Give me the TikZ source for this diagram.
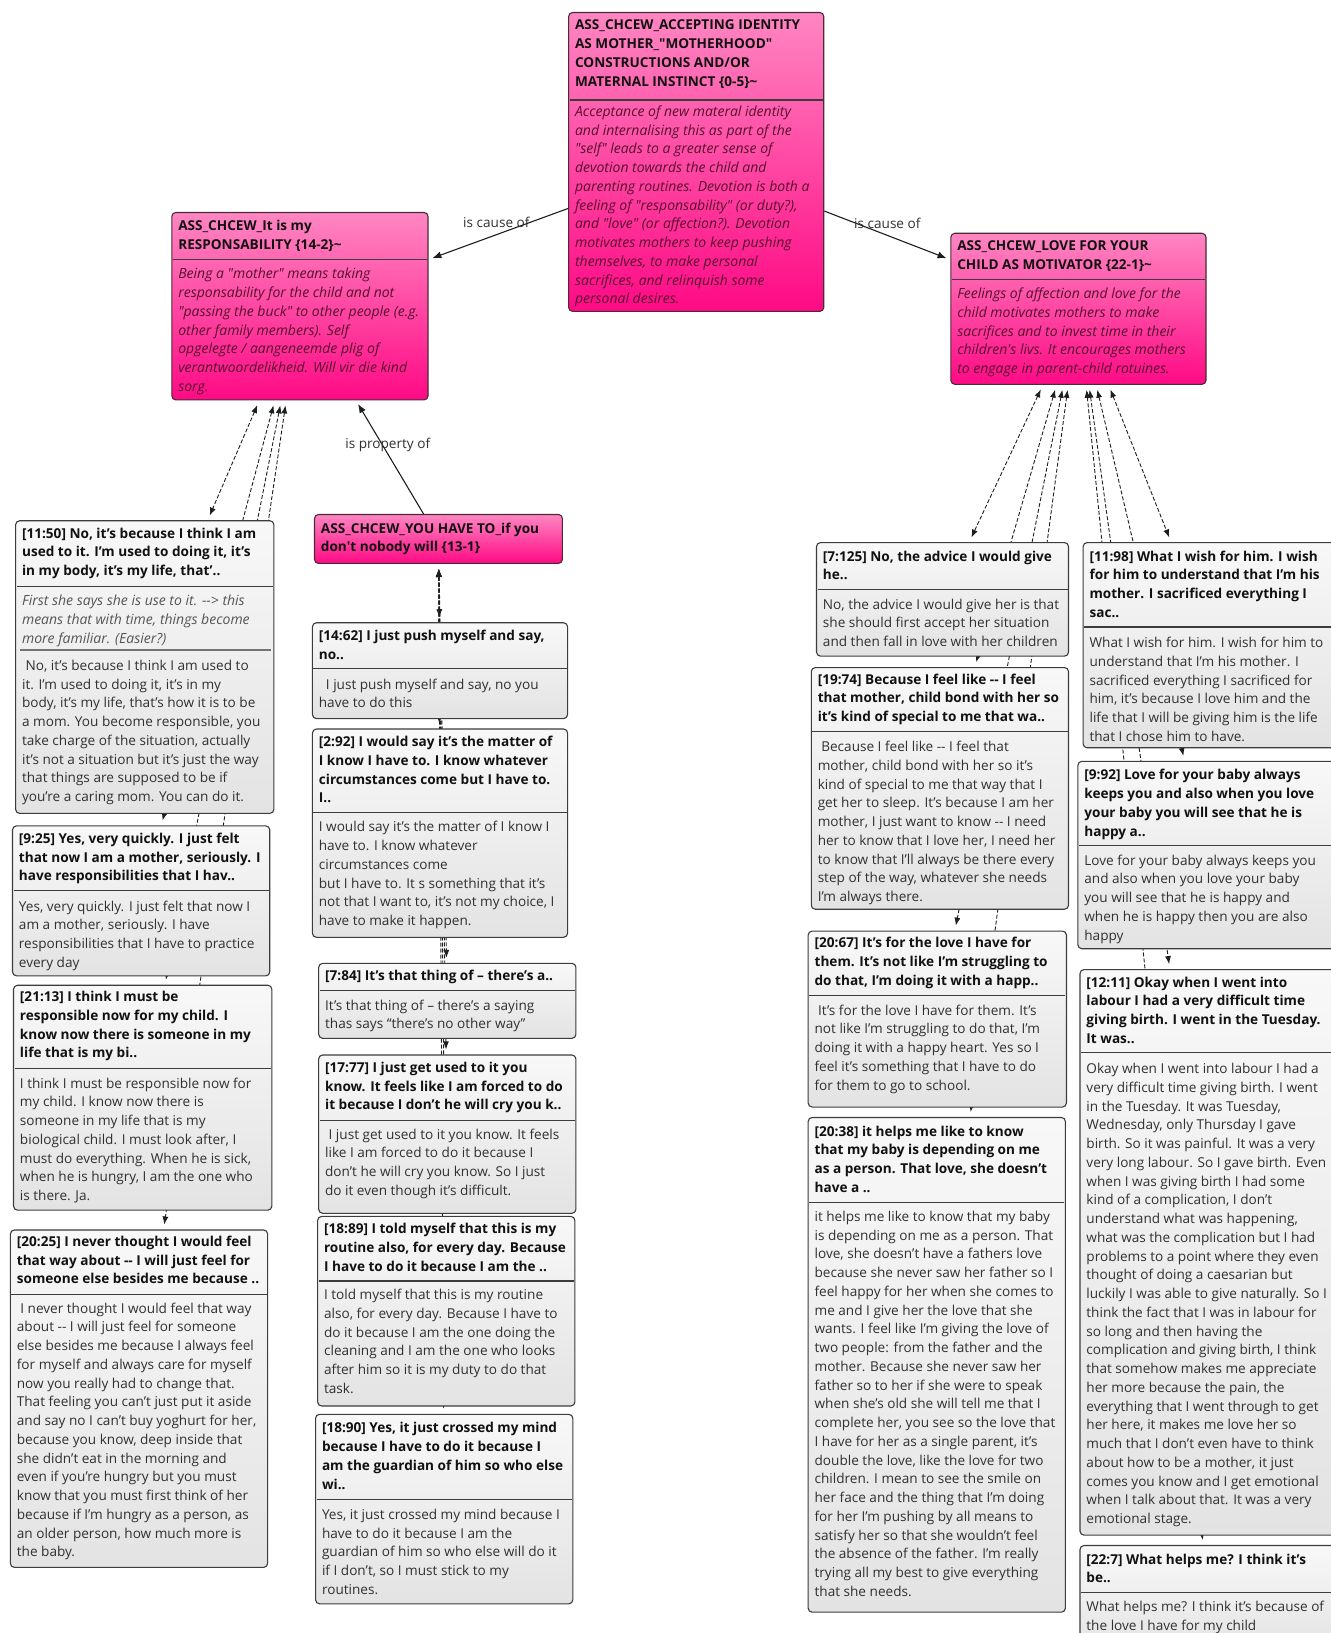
\documentclass[tikz,border=0pt]{standalone}
\usepackage{fontspec}
\setmainfont{Open Sans}[Ligatures=TeXOff]
\usetikzlibrary{arrows.meta,fit,backgrounds}

\definecolor{qborder}{HTML}{3C3C3C}
\definecolor{qtop}{HTML}{F8F8F8}
\definecolor{qbot}{HTML}{E3E3E3}
\definecolor{cborder}{HTML}{4A2A38}
\definecolor{ctop}{HTML}{FF86C2}
\definecolor{cbot}{HTML}{FF0A85}
\definecolor{headink}{HTML}{111111}
\definecolor{bodyink}{HTML}{303030}
\definecolor{noteink}{HTML}{555555}
\definecolor{codeink}{HTML}{55102F}
\definecolor{linkink}{HTML}{1E1E1E}

\newcommand\fsz{\fontsize{13.6pt}{18.75pt}\selectfont}
\newcommand\fszi{\fontsize{14pt}{18.75pt}\selectfont}
% a box spanning two corners
\newcommand\cardbox[6]{\node[#2, fit={(#3,#4)(#5,#6)}] (#1) {};}
% a block of lines whose first line is centred on the given y
\newcommand\cardtext[5]{\node[#2, anchor=north west] (#1) at (#3,{#4-8.0}) {\strut#5};}
% a horizontal divider inside a box
\newcommand\cardrule[4]{\draw[#1] (#2,#4) -- (#3,#4);}

\begin{document}
\begin{tikzpicture}[x=1.0415pt,y=-1.0415pt,
  quotecard/.style={draw=qborder, line width=1.1pt, rounded corners=4pt,
    top color=qtop, bottom color=qbot, inner sep=0pt},
  codecard/.style={draw=cborder, line width=1.1pt, rounded corners=4pt,
    top color=ctop, bottom color=cbot, inner sep=0pt},
  headtxt/.style={font=\fsz\bfseries, text=headink, align=left, inner sep=0pt},
  bodytxt/.style={font=\fsz, text=bodyink, align=left, inner sep=0pt},
  notetxt/.style={font=\fszi\itshape, text=noteink, align=left, inner sep=0pt},
  codetxt/.style={font=\fszi\itshape, text=codeink, align=left, inner sep=0pt},
  divider/.style={draw=qborder, line width=1.1pt},
  notedivider/.style={draw=black!55, line width=2pt},
  qlink/.style={draw=linkink, line width=0.9pt, dash pattern=on 4pt off 2pt,
    {Latex[length=8pt,width=6pt]}-{Latex[length=8pt,width=6pt]},
    shorten <=5pt, shorten >=5pt},
  rel/.style={draw=linkink, line width=1.1pt, -{Latex[length=9pt,width=7pt]},
    shorten >=4pt},
  rellabel/.style={font=\fsz, text=bodyink, midway, yshift=12pt, inner sep=0pt}
]
\useasboundingbox (0,0) rectangle (1278,1568);
\clip (0,0) rectangle (1278,1568);

% ---------------- codes ----------------
\cardbox{top}{codecard}{546}{12}{791}{299}
\cardtext{toph}{headtxt}{552}{24}{ASS\_CHCEW\_ACCEPTING IDENTITY\\AS MOTHER\_"MOTHERHOOD"\\CONSTRUCTIONS AND/OR\\MATERNAL INSTINCT \{0-5\}\textasciitilde}
\cardrule{divider}{547}{790}{96}
\cardtext{topb}{codetxt}{552}{107}{Acceptance of new materal identity\\and internalising this as part of the\\"self" leads to a greater sense of\\devotion towards the child and\\parenting routines. Devotion is both a\\feeling of "responsability" (or duty?),\\and "love" (or affection?). Devotion\\motivates mothers to keep pushing\\themselves, to make personal\\sacrifices, and relinquish some\\personal desires.}

\cardbox{resp}{codecard}{165}{204}{411}{384}
\cardtext{resph}{headtxt}{171}{217}{ASS\_CHCEW\_It is my\\RESPONSABILITY \{14-2\}\textasciitilde}
\cardrule{divider}{166}{410}{249}
\cardtext{respb}{codetxt}{171}{263}{Being a "mother" means taking\\responsability for the child and not\\"passing the buck" to other people (e.g.\\other family members). Self\\opgelegte / aangeneemde plig of\\verantwoordelikheid. Will vir die kind\\sorg.}

\cardbox{love}{codecard}{913}{224}{1158}{369}
\cardtext{loveh}{headtxt}{919}{236}{ASS\_CHCEW\_LOVE FOR YOUR\\CHILD AS MOTIVATOR \{22-1\}\textasciitilde}
\cardrule{divider}{914}{1157}{268}
\cardtext{loveb}{codetxt}{919}{282}{Feelings of affection and love for the\\child motivates mothers to make\\sacrifices and to invest time in their\\children's livs. It encourages mothers\\to engage in parent-child rotuines.}

\cardbox{you}{codecard}{302}{494}{540}{541}
\cardtext{youh}{headtxt}{308}{507}{ASS\_CHCEW\_YOU HAVE TO\_if you\\don't nobody will \{13-1\}}

% ---------------- quotations, left column ----------------
\cardbox{q1150}{quotecard}{15}{500}{263}{781}
\cardtext{q1150h}{headtxt}{21}{512}{[11:50] No, it’s because I think I am\\used to it. I’m used to doing it, it’s\\in my body, it’s my life, that’..}
\cardrule{divider}{16}{262}{563}
\cardtext{q1150c}{notetxt}{21}{577}{First she says she is use to it. --> this\\means that with time, things become\\more familiar. (Easier?)}
\cardrule{notedivider}{19}{260}{624}
\cardtext{q1150b}{bodytxt}{21}{639}{\ No, it’s because I think I am used to\\it.  I’m used to doing it, it’s in my\\body, it’s my life, that’s how it is to be\\a mom.  You become responsible, you\\take charge of the situation, actually\\it’s not a situation but it’s just the way\\that things are supposed to be if\\you’re a caring mom.  You can do it.}

\cardbox{q925}{quotecard}{12}{793}{259}{937}
\cardtext{q925h}{headtxt}{18}{805}{[9:25] Yes, very quickly. I just felt\\that now I am a mother, seriously. I\\have responsibilities that I hav..}
\cardrule{divider}{13}{258}{855}
\cardtext{q925b}{bodytxt}{18}{870}{Yes, very quickly.  I just felt that now I\\am a mother, seriously.  I have\\responsibilities that I have to practice\\every day}

\cardbox{q2113}{quotecard}{13}{946}{261}{1162}
\cardtext{q2113h}{headtxt}{19}{957}{[21:13] I think I must be\\responsible now for my child. I\\know now there is someone in my\\life that is my bi..}
\cardrule{divider}{14}{260}{1026}
\cardtext{q2113b}{bodytxt}{19}{1040}{I think I must be responsible now for\\my child. I know now there is\\someone in my life that is my\\biological child. I must look after, I\\must do everything. When he is sick,\\when he is hungry, I am the one who\\is there. Ja.}

\cardbox{q2025}{quotecard}{10}{1181}{257}{1505}
\cardtext{q2025h}{headtxt}{16}{1192}{[20:25] I never thought I would feel\\that way about -- I will just feel for\\someone else besides me because ..}
\cardrule{divider}{11}{256}{1243}
\cardtext{q2025b}{bodytxt}{16}{1256}{\ I never thought I would feel that way\\about -- I will just feel for someone\\else besides me because I always feel\\for myself and always care for myself\\now you really had to change that.\\That feeling you can’t just put it aside\\and say no I can’t buy yoghurt for her,\\because you know, deep inside that\\she didn’t eat in the morning and\\even if you’re hungry but you must\\know that you must first think of her\\because if I’m hungry as a person, as\\an older person, how much more is\\the baby.}

% ---------------- quotations, middle column ----------------
\cardbox{q1462}{quotecard}{300}{598}{545}{690}
\cardtext{q1462h}{headtxt}{306}{610}{[14:62] I just push myself and say,\\no..}
\cardrule{divider}{301}{544}{642}
\cardtext{q1462b}{bodytxt}{306}{657}{\ \ I just push myself and say, no you\\have to do this}

\cardbox{q292}{quotecard}{300}{700}{545}{900}
\cardtext{q292h}{headtxt}{306}{712}{[2:92] I would say it’s the matter of\\I know I have to. I know whatever\\circumstances come but I have to.\\I..}
\cardrule{divider}{301}{544}{780}
\cardtext{q292b}{bodytxt}{306}{794}{I would say it’s the matter of I know I\\have to. I know whatever\\circumstances come\\but I have to. It s something that it’s\\not that I want to, it’s not my choice, I\\have to make it happen.}

\cardbox{q784}{quotecard}{306}{925}{553}{997}
\cardtext{q784h}{headtxt}{312}{937}{[7:84] It’s that thing of – there’s a..}
\cardrule{divider}{307}{552}{951}
\cardtext{q784b}{bodytxt}{312}{965}{It’s that thing of – there’s a saying\\thas says “there’s no other way”}

\cardbox{q1777}{quotecard}{306}{1013}{553}{1165}
\cardtext{q1777h}{headtxt}{312}{1025}{[17:77] I just get used to it you\\know. It feels like I am forced to do\\it because I don’t he will cry you k..}
\cardrule{divider}{307}{552}{1076}
\cardtext{q1777b}{bodytxt}{312}{1089}{\ I just get used to it you know. It feels\\like I am forced to do it because I\\don’t he will cry you know. So I just\\do it even though it’s difficult.}

\cardbox{q1889}{quotecard}{305}{1168}{552}{1350}
\cardtext{q1889h}{headtxt}{311}{1180}{[18:89] I told myself that this is my\\routine also, for every day. Because\\I have to do it because I am the ..}
\cardrule{divider}{306}{551}{1230}
\cardtext{q1889b}{bodytxt}{311}{1243}{I told myself that this is my routine\\also, for every day. Because I have to\\do it because I am the one doing the\\cleaning and I am the one who looks\\after him so it is my duty to do that\\task.}

\cardbox{q1890}{quotecard}{303}{1358}{550}{1540}
\cardtext{q1890h}{headtxt}{309}{1371}{[18:90] Yes, it just crossed my mind\\because I have to do it because I\\am the guardian of him so who else\\wi..}
\cardrule{divider}{304}{549}{1440}
\cardtext{q1890b}{bodytxt}{309}{1454}{Yes, it just crossed my mind because I\\have to do it because I am the\\guardian of him so who else will do it\\if I don’t, so I must stick to my\\routines.}

% ---------------- quotations, right-middle column ----------------
\cardbox{q7125}{quotecard}{784}{521}{1026}{630}
\cardtext{q7125h}{headtxt}{790}{534}{[7:125] No, the advice I would give\\he..}
\cardrule{divider}{785}{1025}{566}
\cardtext{q7125b}{bodytxt}{790}{580}{No, the advice I would give her is that\\she should first accept her situation\\and then fall in love with her children}

\cardbox{q1974}{quotecard}{779}{641}{1026}{873}
\cardtext{q1974h}{headtxt}{785}{652}{[19:74] Because I feel like -- I feel\\that mother, child bond with her so\\it’s kind of special to me that wa..}
\cardrule{divider}{780}{1025}{702}
\cardtext{q1974b}{bodytxt}{785}{717}{\ Because I feel like -- I feel that\\mother, child bond with her so it’s\\kind of special to me that way that I\\get her to sleep.  It’s because I am her\\mother, I just want to know -- I need\\her to know that I love her, I need her\\to know that I’ll always be there every\\step of the way, whatever she needs\\I’m always there.}

\cardbox{q2067}{quotecard}{776}{894}{1024}{1063}
\cardtext{q2067h}{headtxt}{782}{905}{[20:67] It’s for the love I have for\\them. It’s not like I’m struggling to\\do that, I’m doing it with a happ..}
\cardrule{divider}{777}{1023}{956}
\cardtext{q2067b}{bodytxt}{782}{970}{\ It’s for the love I have for them. It’s\\not like I’m struggling to do that, I’m\\doing it with a happy heart.  Yes so I\\feel it’s something that I have to do\\for them to go to school.}

\cardbox{q2038}{quotecard}{776}{1073}{1023}{1548}
\cardtext{q2038h}{headtxt}{782}{1086}{[20:38] it helps me like to know\\that my baby is depending on me\\as a person. That love, she doesn’t\\have a ..}
\cardrule{divider}{777}{1022}{1155}
\cardtext{q2038b}{bodytxt}{782}{1168}{it helps me like to know that my baby\\is depending on me as a person.  That\\love, she doesn’t have a fathers love\\because she never saw her father so I\\feel happy for her when she comes to\\me and I give her the love that she\\wants. I feel like I’m giving the love of\\two people: from the father and the\\mother. Because she never saw her\\father so to her if she were to speak\\when she’s old she will tell me that I\\complete her, you see so the love that\\I have for her as a single parent, it’s\\double the love, like the love for two\\children.  I mean to see the smile on\\her face and the thing that I’m doing\\for her I’m pushing by all means to\\satisfy her so that she wouldn’t feel\\the absence of the father.  I’m really\\trying all my best to give everything\\that she needs.}

% ---------------- quotations, right column ----------------
\cardbox{q1198}{quotecard}{1040}{521}{1287}{718}
\cardtext{q1198h}{headtxt}{1046}{534}{[11:98] What I wish for him. I wish\\for him to understand that I’m his\\mother. I sacrificed everything I\\sac..}
\cardrule{divider}{1041}{1286}{602}
\cardtext{q1198b}{bodytxt}{1046}{617}{What I wish for him.  I wish for him to\\understand that I’m his mother.  I\\sacrificed everything I sacrificed for\\him, it’s because I love him and the\\life that I will be giving him is the life\\that I chose him to have.}

\cardbox{q992}{quotecard}{1035}{731}{1282}{911}
\cardtext{q992h}{headtxt}{1041}{744}{[9:92] Love for your baby always\\keeps you and also when you love\\your baby you will see that he is\\happy a..}
\cardrule{divider}{1036}{1281}{812}
\cardtext{q992b}{bodytxt}{1041}{826}{Love for your baby always keeps you\\and also when you love your baby\\you will see that he is happy and\\when he is happy then you are also\\happy}

\cardbox{q1211}{quotecard}{1037}{931}{1284}{1474}
\cardtext{q1211h}{headtxt}{1043}{943}{[12:11] Okay when I went into\\labour I had a very difficult time\\giving birth. I went in the Tuesday.\\It was..}
\cardrule{divider}{1038}{1283}{1011}
\cardtext{q1211b}{bodytxt}{1043}{1026}{Okay when I went into labour I had a\\very difficult time giving birth. I went\\in the Tuesday. It was Tuesday,\\Wednesday, only Thursday I gave\\birth. So it was painful. It was a very\\very long labour. So I gave birth. Even\\when I was giving birth I had some\\kind of a complication, I don’t\\understand what was happening,\\what was the complication but I had\\problems to a point where they even\\thought of doing a caesarian but\\luckily I was able to give naturally. So I\\think the fact that I was in labour for\\so long and then having the\\complication and giving birth, I think\\that somehow makes me appreciate\\her more because the pain, the\\everything that I went through to get\\her here, it makes me love her so\\much that I don’t even have to think\\about how to be a mother, it just\\comes you know and I get emotional\\when I talk about that. It was a very\\emotional stage.}

\cardbox{q227}{quotecard}{1037}{1484}{1284}{1590}
\cardtext{q227h}{headtxt}{1043}{1497}{[22:7] What helps me? I think it’s\\be..}
\cardrule{divider}{1038}{1283}{1529}
\cardtext{q227b}{bodytxt}{1043}{1543}{What helps me? I think it’s because of\\the love I have for my child}

% ---------------- connectors (behind the boxes) ----------------
\begin{pgfonlayer}{background}
  \foreach \q in {q1150,q925,q2113,q2025}
    \draw[qlink] (resp) -- (\q);
  \foreach \q in {q1462,q292,q784,q1777,q1889,q1890}
    \draw[qlink] (you) -- (\q);
  \foreach \q in {q7125,q1974,q2067,q2038,q1198,q992,q1211,q227}
    \draw[qlink] (love) -- (\q);
  \draw[rel] (top) -- node[rellabel, xshift=-2pt] (cause1) {is cause of} (resp);
  \draw[rel] (top) -- node[rellabel] (cause2) {is cause of} (love);
  \draw[rel] (you) -- node[rellabel, xshift=-2pt] (prop) {is property of} (resp);
\end{pgfonlayer}
\end{tikzpicture}
\end{document}
